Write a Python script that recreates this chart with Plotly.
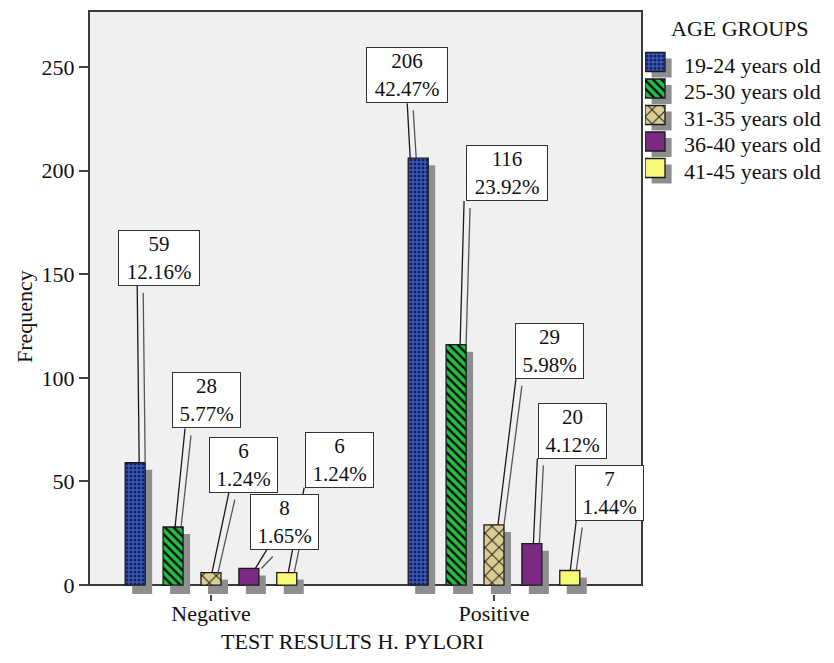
import plotly.graph_objects as go

# ---------------- data ----------------
categories = ["Negative", "Positive"]
age_groups = ["19-24 years old", "25-30 years old", "31-35 years old",
              "36-40 years old", "41-45 years old"]

freq_19_24 = [59, 206]
freq_25_30 = [28, 116]
freq_31_35 = [6, 29]
freq_36_40 = [8, 20]
freq_41_45 = [6, 7]

pct_19_24 = ["12.16%", "42.47%"]
pct_25_30 = ["5.77%", "23.92%"]
pct_31_35 = ["1.24%", "5.98%"]
pct_36_40 = ["1.65%", "4.12%"]
pct_41_45 = ["1.24%", "1.44%"]

y_ticks = [0, 50, 100, 150, 200, 250]

series_freqs = [freq_19_24, freq_25_30, freq_31_35, freq_36_40, freq_41_45]
series_pcts = [pct_19_24, pct_25_30, pct_31_35, pct_36_40, pct_41_45]

# ---------------- styles ----------------
FONT = "Liberation Serif, Times New Roman, serif"
EDGE = "#1a1a1a"
SHADOW = "#8e8e8e"
FRAME = "#3a3a3a"
PANEL = "#f0f0f0"

STYLES = [
    dict(bg="#3a5bc0", fg="#15215a", shape=".", size=4, solidity=0.45),
    dict(bg="#22c044", fg="#0a0a0a", shape="\\", size=6, solidity=0.4),
    dict(bg="#d9cd92", fg="#222222", shape="x", size=10, solidity=0.2),
    dict(bg="#7b2a84", fg=None, shape="", size=0, solidity=0),
    dict(bg="#f8f878", fg=None, shape="", size=0, solidity=0),
]


def bar_marker(st):
    marker = dict(color=st["bg"], line=dict(color=EDGE, width=1.3))
    if st["shape"]:
        marker["pattern"] = dict(shape=st["shape"], fgcolor=st["fg"], fgopacity=1,
                                 size=st["size"], solidity=st["solidity"],
                                 fillmode="overlay")
    return marker


# ---------------- geometry ----------------
W, H = 834, 663
M_L, M_R, M_T, M_B = 89, 0, 10, 69
PAPER_W = W - M_L - M_R
PAPER_H = H - M_T - M_B
PLOT_RIGHT = 642


def px_x(px):
    return (px - M_L) / PAPER_W


def px_y(py):
    return (H - M_B - py) / PAPER_H


Y_RANGE = [-4.33, 277.5]
FRAME_TOP = 277
X_RANGE = [-0.431, 1.523]
SLOT = 0.1339
BAR_W = 0.0707
SHADOW_DX = 0.0247   # drop shadow shift to the right (category units)
SHADOW_DY = 3.4      # drop shadow shift downward (frequency units)

n = len(age_groups)
offsets = [(i - (n - 1) / 2) * SLOT - BAR_W / 2 for i in range(n)]

# label placement in pixels, keyed by (category, series):
# (leader tip dx, leader top dx, leader top dy, box centre dx, box centre dy)
LABEL_GEOM = {
    (0, 0): (4, -2, -177.5, 19.5, -204.5),
    (0, 1): (2, 10, -99, 31, -127),
    (0, 2): (1, 17, -80.5, 32, -108),
    (0, 3): (6.5, 12, -19.5, 29.5, -46.4),
    (0, 4): (1.5, 16, -85.5, 51, -113),
    (1, 0): (-8, -3, -55.3, -3, -82.8),
    (1, 1): (4, 4, -144.2, 47, -171.7),
    (1, 2): (4, 18, -146.8, 51.5, -174.3),
    (1, 3): (1.5, 4, -85.5, 39, -113),
    (1, 4): (0.5, 6, -50.5, 39.5, -77.5),
}

fig = go.Figure()

# drop shadows behind the bars
for i in range(n):
    vals = series_freqs[i]
    fig.add_trace(go.Bar(
        x=categories, y=[v - SHADOW_DY - Y_RANGE[0] for v in vals],
        base=Y_RANGE[0], offset=offsets[i] + SHADOW_DX, width=BAR_W,
        marker=dict(color=SHADOW, line=dict(width=0)),
        showlegend=False, hoverinfo="skip"))

# the bars
for i in range(n):
    fig.add_trace(go.Bar(
        x=categories, y=series_freqs[i], name=age_groups[i],
        offset=offsets[i], width=BAR_W, marker=bar_marker(STYLES[i]),
        showlegend=False))

# legend keys drawn on a small helper axis (one key per age group)
KEY_H = 0.717
for i in range(n):
    fig.add_trace(go.Bar(
        orientation="h", y=[i], x=[1], base=0.33, width=KEY_H,
        offset=-KEY_H / 2 + 0.226, xaxis="x2", yaxis="y2",
        marker=dict(color=SHADOW, line=dict(width=0)), showlegend=False, hoverinfo="skip"))
    fig.add_trace(go.Bar(
        orientation="h", y=[i], x=[1], base=0, width=KEY_H, offset=-KEY_H / 2,
        xaxis="x2", yaxis="y2", showlegend=False, hoverinfo="skip",
        marker=bar_marker(STYLES[i])))

for i, name in enumerate(age_groups):
    fig.add_annotation(x=px_x(682), y=i, xref="paper", yref="y2", text=name,
                       showarrow=False, xanchor="left", yanchor="middle", yshift=-3,
                       font=dict(size=22, color="#111"))
fig.add_annotation(x=px_x(669), y=px_y(28), xref="paper", yref="paper", text="AGE GROUPS",
                   showarrow=False, xanchor="left", yanchor="middle",
                   font=dict(size=22, color="#111"))

# panel and frame
fig.add_shape(type="rect", xref="x domain", yref="y", x0=0, x1=1, y0=0, y1=FRAME_TOP,
              fillcolor=PANEL, line=dict(color=FRAME, width=2), layer="below")

# value labels: leader shadow, leader, then the box
label_items = []
for ci in range(len(categories)):
    for si in range(n):
        v = series_freqs[si][ci]
        xc = ci + offsets[si] + BAR_W / 2
        label_items.append((ci, si, v, xc, series_pcts[si][ci]))

for ci, si, v, xc, pct in label_items:
    tx, lx, ly, bx, by = LABEL_GEOM[(ci, si)]
    fig.add_annotation(x=xc, y=v, xref="x", yref="y", text="", showarrow=True,
                       arrowhead=0, arrowwidth=1.3, arrowcolor="#555555",
                       ax=lx, ay=ly + 7, xshift=tx + 6, standoff=0, borderpad=0)
for ci, si, v, xc, pct in label_items:
    tx, lx, ly, bx, by = LABEL_GEOM[(ci, si)]
    fig.add_annotation(x=xc, y=v, xref="x", yref="y", text="", showarrow=True,
                       arrowhead=0, arrowwidth=1.3, arrowcolor="#1a1a1a",
                       ax=lx, ay=ly, xshift=tx, standoff=0, borderpad=0)
for ci, si, v, xc, pct in label_items:
    tx, lx, ly, bx, by = LABEL_GEOM[(ci, si)]
    fig.add_annotation(x=xc, y=v, xref="x", yref="y", text=f"{v}<br>{pct}",
                       showarrow=False, xanchor="center", yanchor="middle",
                       xshift=tx + bx, yshift=-by, width=13 * len(pct) + 2, height=54,
                       bgcolor="white", bordercolor="#333333", borderwidth=1, borderpad=0,
                       align="center", valign="middle", font=dict(size=21, color="#111"))

# axis titles
fig.add_annotation(xref="paper", yref="paper", x=px_x(25), y=px_y(317), text="Frequency",
                   textangle=-90, showarrow=False, xanchor="center", yanchor="middle",
                   font=dict(size=22, color="#111"))
fig.add_annotation(xref="paper", yref="paper", x=px_x(352), y=px_y(642),
                   text="TEST RESULTS H. PYLORI", showarrow=False,
                   xanchor="center", yanchor="middle", font=dict(size=22, color="#111"))

fig.update_layout(
    width=W, height=H,
    margin=dict(l=M_L, r=M_R, t=M_T, b=M_B, autoexpand=False),
    barmode="overlay",
    plot_bgcolor="white", paper_bgcolor="white",
    font=dict(family=FONT, size=22, color="#111"),
    xaxis=dict(domain=[0, px_x(PLOT_RIGHT)], range=X_RANGE, type="category",
               categoryorder="array", categoryarray=categories,
               ticks="outside", ticklen=6, tickwidth=1.5, tickcolor="#444",
               ticklabelstandoff=-6,
               showline=False, showgrid=False, zeroline=False, automargin=False,
               tickfont=dict(size=22, color="#111")),
    yaxis=dict(range=Y_RANGE, tickvals=y_ticks, ticks="outside", ticklen=9,
               tickwidth=1.5, tickcolor="#444", showline=False, showgrid=False,
               zeroline=False, automargin=False, tickfont=dict(size=22, color="#111")),
    xaxis2=dict(domain=[px_x(645), px_x(673)], range=[0, 1.4], anchor="y2",
                visible=False, fixedrange=True),
    yaxis2=dict(domain=[px_y(183.9), px_y(46.1)], range=[4.6, -0.6], anchor="x2",
                visible=False, fixedrange=True),
    showlegend=False,
)

fig.write_html("out.html")
